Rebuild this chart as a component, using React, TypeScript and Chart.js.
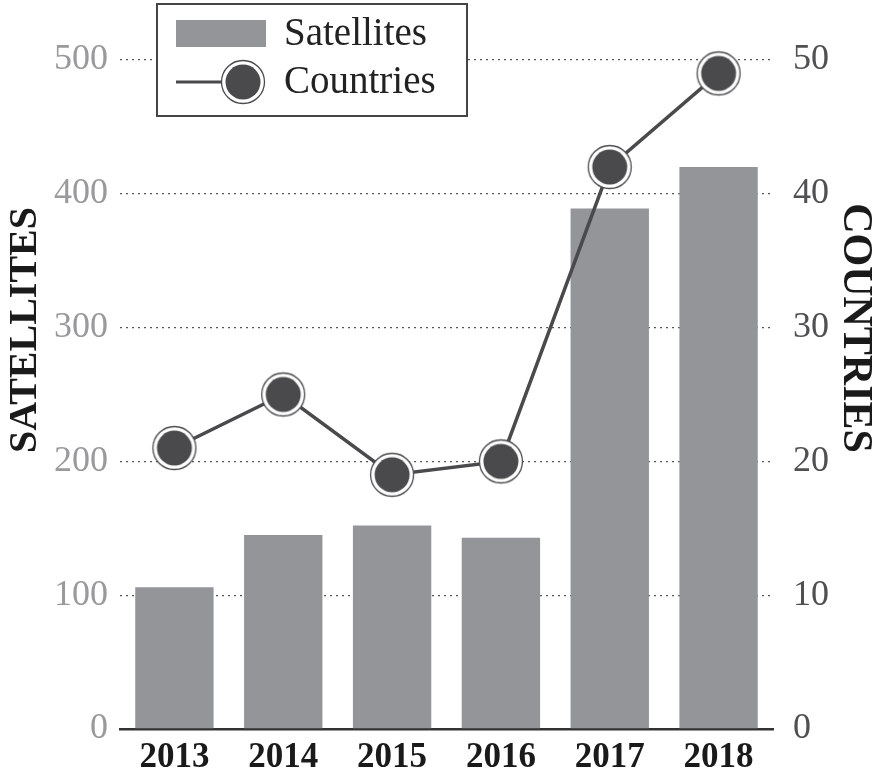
import React, { useEffect, useRef } from "react";
import { Chart, registerables } from "chart.js";

Chart.register(...registerables);

const years = ["2013", "2014", "2015", "2016", "2017", "2018"];
const satellites = [106, 145, 152, 143, 389, 420];
const countries = [21, 25, 19, 20, 42, 49];
const leftTicks = [0, 100, 200, 300, 400, 500];
const rightTicks = [0, 10, 20, 30, 40, 50];

const BAR = "#939598";
const DARK = "#4a4a4c";
const SERIF = "'Liberation Serif', 'DejaVu Serif', serif";

function makeMarker(): HTMLCanvasElement {
  const c = document.createElement("canvas");
  c.width = 48;
  c.height = 48;
  const g = c.getContext("2d")!;
  g.beginPath();
  g.arc(24, 24, 21.5, 0, Math.PI * 2);
  g.fillStyle = "#ffffff";
  g.fill();
  g.lineWidth = 1.3;
  g.strokeStyle = "#4a4a4c";
  g.stroke();
  g.beginPath();
  g.arc(24, 24, 17.5, 0, Math.PI * 2);
  g.fillStyle = DARK;
  g.fill();
  return c;
}

export default function App() {
  const ref = useRef<HTMLCanvasElement>(null);
  useEffect(() => {
    const marker = makeMarker();
    const overlay = {
      id: "overlay",
      afterDraw(chart: any) {
        const ctx = chart.ctx as CanvasRenderingContext2D;
        ctx.save();
        // legend box
        ctx.fillStyle = "#ffffff";
        ctx.fillRect(157, 4, 310, 112);
        ctx.lineWidth = 2;
        ctx.strokeStyle = "#444";
        ctx.strokeRect(157, 4, 310, 112);
        ctx.fillStyle = BAR;
        ctx.fillRect(176, 20, 90, 27);
        ctx.strokeStyle = DARK;
        ctx.lineWidth = 3;
        ctx.beginPath();
        ctx.moveTo(176, 82);
        ctx.lineTo(228, 82);
        ctx.stroke();
        ctx.drawImage(marker, 243 - 24, 82 - 24);
        ctx.fillStyle = "#222";
        ctx.font = `39px ${SERIF}`;
        ctx.textBaseline = "middle";
        ctx.textAlign = "left";
        ctx.fillText("Satellites", 284, 35);
        ctx.fillText("Countries", 284, 83);
        // axis titles
        ctx.font = `bold 40px ${SERIF}`;
        ctx.fillStyle = "#1a1a1a";
        ctx.textAlign = "center";
        ctx.save();
        ctx.translate(26, 330);
        ctx.rotate(-Math.PI / 2);
        ctx.fillText("SATELLITES", 0, 0);
        ctx.restore();
        ctx.font = `bold 42px ${SERIF}`;
        ctx.save();
        ctx.translate(855, 328);
        ctx.rotate(Math.PI / 2);
        ctx.fillText("COUNTRIES", 0, 0);
        ctx.restore();
        ctx.restore();
      },
    };
    const chart = new Chart(ref.current!, {
      type: "bar",
      data: {
        labels: years,
        datasets: [
          {
            type: "line",
            label: "Countries",
            data: countries,
            yAxisID: "y1",
            borderColor: DARK,
            borderWidth: 3.5,
            pointStyle: marker as any,
            pointRadius: 22,
            clip: false as any,
            order: 0,
          },
          {
            type: "bar",
            label: "Satellites",
            data: satellites,
            yAxisID: "y",
            backgroundColor: BAR,
            barPercentage: 0.72,
            categoryPercentage: 1,
            order: 1,
          },
        ],
      },
      options: {
        animation: false,
        responsive: false,
        maintainAspectRatio: false,
        layout: { padding: { top: 60, left: 0, right: 0, bottom: 0 } },
        plugins: { legend: { display: false }, tooltip: { enabled: false } },
        scales: {
          x: {
            grid: { display: false },
            border: { display: true, color: "#333", width: 2.5 },
            ticks: {
              color: "#1a1a1a",
              font: { family: SERIF, size: 35, weight: "bold" },
              padding: 0,
            },
            afterFit(s: any) {
              s.height = 41;
            },
          },
          y: {
            position: "left",
            min: 0,
            max: 500,
            afterBuildTicks(s: any) {
              s.ticks = leftTicks.map((v) => ({ value: v }));
            },
            grid: {
              color: "#555",
              lineWidth: 1.3,
              drawTicks: false,
            },
            border: { display: false, dash: [2, 4] },
            ticks: {
              color: "#9a9a9c",
              font: { family: SERIF, size: 36 },
              padding: 12,
            },
            afterFit(s: any) {
              s.width = 120;
            },
          },
          y1: {
            position: "right",
            min: 0,
            max: 50,
            afterBuildTicks(s: any) {
              s.ticks = rightTicks.map((v) => ({ value: v }));
            },
            grid: { display: false },
            border: { display: false },
            ticks: {
              color: "#505052",
              font: { family: SERIF, size: 36 },
              padding: 12,
            },
            afterFit(s: any) {
              s.width = 106;
            },
          },
        },
      } as any,
      plugins: [overlay],
    });
    return () => chart.destroy();
  }, []);
  return (
    <div style={{ position: "fixed", left: 0, top: 0, width: 879, height: 770, background: "#fff" }}>
      <canvas ref={ref} width={879} height={770} style={{ width: 879, height: 770 }} />
    </div>
  );
}
